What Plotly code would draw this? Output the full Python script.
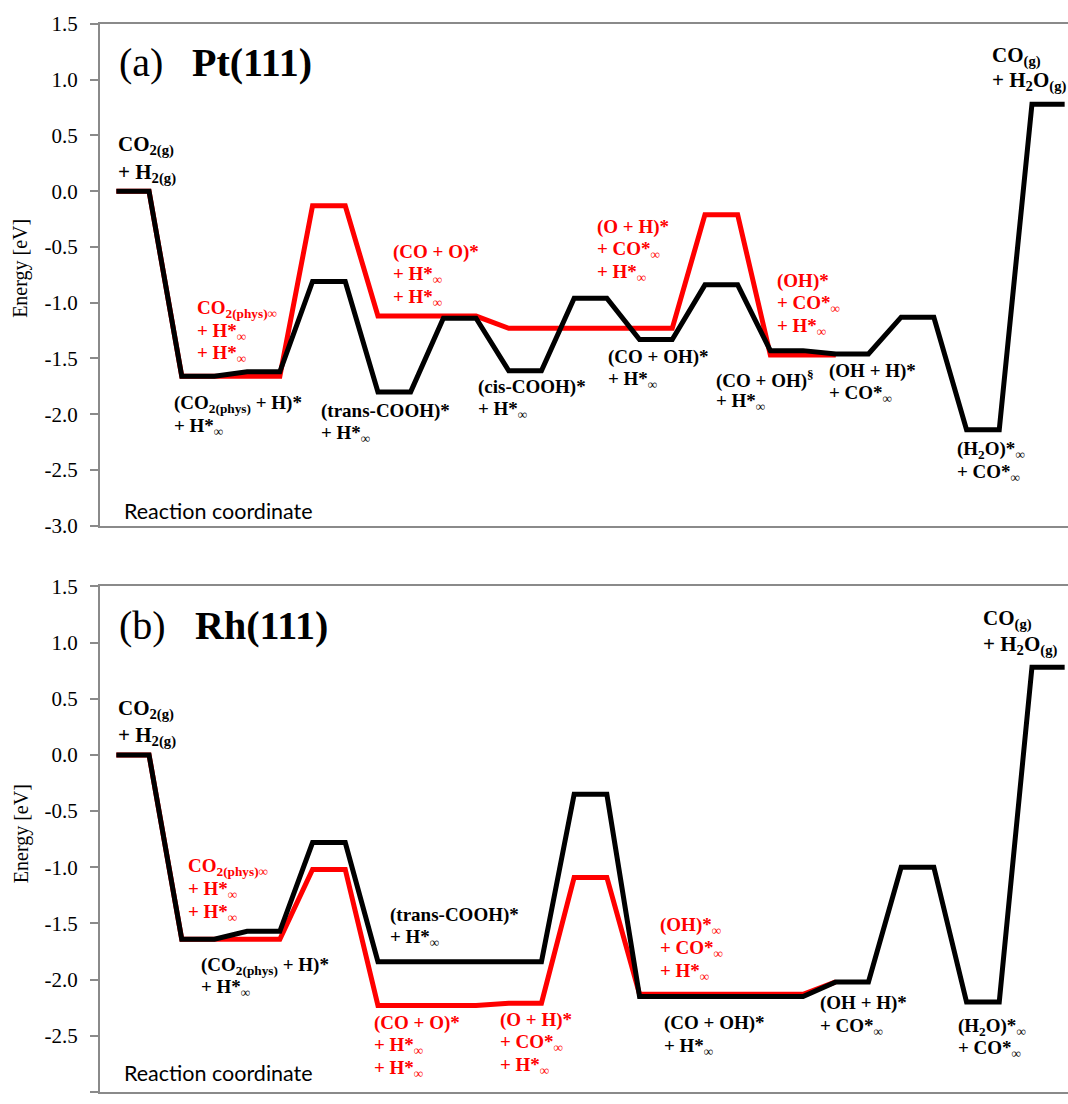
import plotly.graph_objects as go

# ---- data -------------------------------------------------------------
# reaction-coordinate index (each state occupies two consecutive points)
steps = list(range(30))

# Pt(111): energies in eV
pt_black = [0.00, 0.00, -1.66, -1.66, -1.62, -1.62, -0.81, -0.81, -1.80, -1.80,
            -1.14, -1.14, -1.61, -1.61, -0.96, -0.96, -1.33, -1.33, -0.84, -0.84,
            -1.43, -1.43, -1.46, -1.46, -1.13, -1.13, -2.14, -2.14, 0.78, 0.78]
pt_red = [0.00, 0.00, -1.66, -1.66, -1.66, -1.66, -0.13, -0.13, -1.12, -1.12,
          -1.12, -1.12, -1.23, -1.23, -1.23, -1.23, -1.23, -1.23, -0.21, -0.21,
          -1.47, -1.47, -1.47]

# Rh(111): energies in eV
rh_black = [0.00, 0.00, -1.64, -1.64, -1.57, -1.57, -0.78, -0.78, -1.84, -1.84,
            -1.84, -1.84, -1.84, -1.84, -0.35, -0.35, -2.15, -2.15, -2.15, -2.15,
            -2.15, -2.15, -2.02, -2.02, -1.00, -1.00, -2.20, -2.20, 0.78, 0.78]
rh_red = [0.00, 0.00, -1.64, -1.64, -1.64, -1.64, -1.02, -1.02, -2.23, -2.23,
          -2.23, -2.23, -2.21, -2.21, -1.09, -1.09, -2.13, -2.13, -2.13, -2.13,
          -2.13, -2.13, -2.02]

tick_vals = [1.5, 1.0, 0.5, 0.0, -0.5, -1.0, -1.5, -2.0, -2.5, -3.0]
tick_text = ["1.5", "1.0", "0.5", "0.0", "-0.5", "-1.0", "-1.5", "-2.0", "-2.5", "-3.0"]

INF = "<sub>∞</sub>"
pt_labels = [
    ("black", ["CO<sub>2(g)</sub>", "+ H<sub>2(g)</sub>"]),
    ("red", ["CO<sub>2(phys)∞</sub>", "+ H*" + INF, "+ H*" + INF]),
    ("black", ["(CO<sub>2(phys)</sub> + H)*", "+ H*" + INF]),
    ("black", ["(trans-COOH)*", "+ H*" + INF]),
    ("red", ["(CO + O)*", "+ H*" + INF, "+ H*" + INF]),
    ("black", ["(cis-COOH)*", "+ H*" + INF]),
    ("red", ["(O + H)*", "+ CO*" + INF, "+ H*" + INF]),
    ("black", ["(CO + OH)*", "+ H*" + INF]),
    ("red", ["(OH)*", "+ CO*" + INF, "+ H*" + INF]),
    ("black", ["(CO + OH)<sup>§</sup>", "+ H*" + INF]),
    ("black", ["(OH + H)*", "+ CO*" + INF]),
    ("black", ["(H<sub>2</sub>O)*" + INF, "+ CO*" + INF]),
    ("black", ["CO<sub>(g)</sub>", "+ H<sub>2</sub>O<sub>(g)</sub>"]),
]
rh_labels = [
    ("black", ["CO<sub>2(g)</sub>", "+ H<sub>2(g)</sub>"]),
    ("red", ["CO<sub>2(phys)∞</sub>", "+ H*" + INF, "+ H*" + INF]),
    ("black", ["(CO<sub>2(phys)</sub> + H)*", "+ H*" + INF]),
    ("black", ["(trans-COOH)*", "+ H*" + INF]),
    ("red", ["(CO + O)*", "+ H*" + INF, "+ H*" + INF]),
    ("red", ["(O + H)*", "+ CO*" + INF, "+ H*" + INF]),
    ("red", ["(OH)*" + INF, "+ CO*" + INF, "+ H*" + INF]),
    ("black", ["(CO + OH)*", "+ H*" + INF]),
    ("black", ["(OH + H)*", "+ CO*" + INF]),
    ("black", ["(H<sub>2</sub>O)*" + INF, "+ CO*" + INF]),
    ("black", ["CO<sub>(g)</sub>", "+ H<sub>2</sub>O<sub>(g)</sub>"]),
]

# ---- layout geometry (pixels) ----------------------------------------
W, H = 1068, 1104
L, T, B = 100, 24, 7
PW = W - L
PH = H - T - B
BOTTOM = H - B

# left edge / first-line centre / line pitch / font size of each label block
pt_pos = [(116, 146, 28, 21), (195, 310, 23, 19), (172, 406, 23, 19), (319, 413, 23, 19),
          (391, 253, 23, 19), (476, 389, 23, 19), (595, 228, 23, 19), (606, 359, 23, 19),
          (775, 282, 23, 19), (714, 381, 23, 19), (827, 373, 23, 19), (955, 452, 23, 19),
          (990, 57, 25, 21)]
rh_pos = [(116, 713, 27, 21), (186, 871, 23, 19), (199, 970, 23, 19), (388, 919, 23, 19),
          (372, 1028, 23, 19), (498, 1025, 23, 19), (658, 930, 23, 19), (662, 1028, 24, 19),
          (818, 1008, 24, 19), (956, 1032, 22, 19), (981, 622, 26, 21)]

GRAY = "#8a8a8a"
RED = "#ff0000"
SERIF = "Liberation Serif"


def paper(xp, yp):
    return (xp - L) / PW, (BOTTOM - yp) / PH


fig = go.Figure()
fig.add_trace(go.Scatter(x=steps[:len(pt_red)], y=pt_red, mode="lines",
                         line=dict(color=RED, width=5), xaxis="x", yaxis="y"))
fig.add_trace(go.Scatter(x=steps, y=pt_black, mode="lines",
                         line=dict(color="black", width=5), xaxis="x", yaxis="y"))
fig.add_trace(go.Scatter(x=steps[:len(rh_red)], y=rh_red, mode="lines",
                         line=dict(color=RED, width=5), xaxis="x2", yaxis="y2"))
fig.add_trace(go.Scatter(x=steps, y=rh_black, mode="lines",
                         line=dict(color="black", width=5), xaxis="x2", yaxis="y2"))

a_top, a_bot = paper(0, 24)[1], paper(0, 528)[1]
b_top, b_bot = paper(0, 589)[1], paper(0, 1097)[1]

x_rng = [-0.5, -0.5 + PW / 32.7]


def x_axis(anchor):
    return dict(range=x_rng, showticklabels=False, ticks="", showgrid=False,
                zeroline=False, showline=True, linecolor=GRAY, linewidth=2,
                mirror=True, domain=[0, 1], anchor=anchor)


def y_axis(anchor, domain):
    return dict(range=[-3.0, 1.5], tickmode="array", tickvals=tick_vals,
                ticktext=tick_text, ticks="outside", ticklen=8, tickwidth=2,
                tickcolor=GRAY, showline=True, linecolor=GRAY, linewidth=2,
                showgrid=False, zeroline=False, ticklabelstandoff=8,
                tickfont=dict(family=SERIF, size=21, color="black"),
                domain=domain, anchor=anchor)


fig.update_layout(
    width=W, height=H,
    margin=dict(l=L, r=0, t=T, b=B),
    paper_bgcolor="white", plot_bgcolor="white",
    font=dict(family=SERIF, color="black"),
    showlegend=False,
    xaxis=x_axis("y"),
    yaxis=y_axis("x", [a_bot, a_top]),
    xaxis2=x_axis("y2"),
    yaxis2=y_axis("x2", [b_bot, b_top]),
)

ann = []


def text(xp, yp, s, color="black", size=19, family=SERIF, angle=0, xanchor="left"):
    xx, yy = paper(xp, yp)
    ann.append(dict(x=xx, y=yy, xref="paper", yref="paper", text=s,
                    showarrow=False, xanchor=xanchor, yanchor="middle",
                    textangle=angle, font=dict(family=family, size=size, color=color)))


for labels, positions in ((pt_labels, pt_pos), (rh_labels, rh_pos)):
    for (color, lines), (xp, y0, pitch, fs) in zip(labels, positions):
        for k, s in enumerate(lines):
            text(xp, y0 + k * pitch, "<b>" + s + "</b>", color=color, size=fs)

# panel titles
text(117, 63, "(a)", size=40)
text(190, 63, "<b>Pt(111)</b>", size=40)
text(117, 628, "(b)", size=40)
text(193, 628, "<b>Rh(111)</b>", size=40)

# axis captions
for yc in (270, 838):
    text(21, yc, "Energy [eV]", size=20, angle=-90, xanchor="center")
for yc in (513, 1078):
    text(122, yc, "Reaction coordinate", size=21.5, family="Lato")

fig.update_layout(annotations=ann)
fig.write_html("out.html")
